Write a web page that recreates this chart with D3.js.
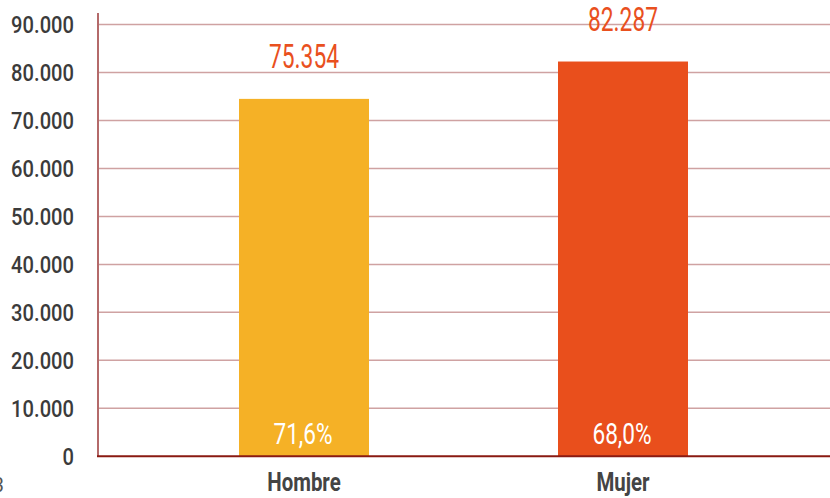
<!DOCTYPE html>
<html>
<head>
<meta charset="utf-8">
<script src="https://cdn.jsdelivr.net/npm/d3@7/dist/d3.min.js"></script>
<style>
  html, body { margin: 0; padding: 0; background: #fff; }
  svg { display: block; }
  text { font-family: Roboto, "Liberation Sans", sans-serif; }
</style>
</head>
<body>
<svg id="chart" width="830" height="498"></svg>
<script>
// ---- data ----
const categories = ["Hombre", "Mujer"];
const barValues = [74500, 82287];          // bar heights as drawn
const valueLabels = ["75.354", "82.287"];   // labels printed above bars
const pctLabels = ["71,6%", "68,0%"];
const barColors = ["#F5B126", "#E94F1C"];
const yTicks = [0, 10000, 20000, 30000, 40000, 50000, 60000, 70000, 80000, 90000];
const yTickLabels = ["0", "10.000", "20.000", "30.000", "40.000", "50.000", "60.000", "70.000", "80.000", "90.000"];

const svg = d3.select("#chart");
const W = 830, H = 498;

const y = d3.scaleLinear().domain([0, 92400]).range([456.3, 13]);
const x = d3.scaleBand().domain(categories).range([98, 829])
  .paddingInner(0.5925).paddingOuter(0.442);

// gridlines
svg.append("g").selectAll("line").data(yTicks.filter(d => d > 0)).join("line")
  .attr("x1", 98).attr("x2", W)
  .attr("y1", d => y(d)).attr("y2", d => y(d))
  .attr("stroke", "#cfa2a2").attr("stroke-width", 1.5);

// y tick labels (condensed)
svg.append("g").selectAll("text").data(yTicks).join("text")
  .attr("transform", d => `translate(74,${y(d) + 8.5}) scale(0.84,1)`)
  .attr("text-anchor", "end")
  .attr("font-size", 24)
  .attr("font-weight", 500)
  .attr("fill", "#3b3b3b")
  .text((d, i) => yTickLabels[i]);

// bars
svg.append("g").selectAll("rect").data(categories).join("rect")
  .attr("x", d => x(d))
  .attr("width", x.bandwidth())
  .attr("y", (d, i) => y(barValues[i]))
  .attr("height", (d, i) => y(0) - y(barValues[i]))
  .attr("fill", (d, i) => barColors[i]);

// axes lines
svg.append("line").attr("x1", 98).attr("x2", 98).attr("y1", 13).attr("y2", y(0))
  .attr("stroke", "#b46a6a").attr("stroke-width", 2);
svg.append("line").attr("x1", 97).attr("x2", W).attr("y1", y(0)).attr("y2", y(0))
  .attr("stroke", "#8a1a12").attr("stroke-width", 2);

// value labels above bars
svg.append("g").selectAll("text").data(categories).join("text")
  .attr("transform", (d, i) => `translate(${x(d) + x.bandwidth() / 2},${y(barValues[i]) - 31}) scale(0.69,1)`)
  .attr("text-anchor", "middle")
  .attr("font-size", 33)
  .attr("fill", "#E9501E")
  .text((d, i) => valueLabels[i]);

// percentage labels inside bars
svg.append("g").selectAll("text").data(categories).join("text")
  .attr("transform", d => `translate(${x(d) + x.bandwidth() / 2 - 1},${y(0) - 12.5}) scale(0.78,1)`)
  .attr("text-anchor", "middle")
  .attr("font-size", 29)
  .attr("fill", "#ffffff")
  .text((d, i) => pctLabels[i]);

// category labels
svg.append("g").selectAll("text").data(categories).join("text")
  .attr("transform", d => `translate(${x(d) + x.bandwidth() / 2},490.5) scale(0.8,1)`)
  .attr("text-anchor", "middle")
  .attr("font-size", 25.5)
  .attr("font-weight", "bold")
  .attr("fill", "#444444")
  .text(d => d);

// partially visible page mark at bottom-left
svg.append("text").attr("x", 4).attr("y", 492).attr("text-anchor", "end")
  .attr("font-size", 20).attr("fill", "#555").text("3");
</script>
</body>
</html>
